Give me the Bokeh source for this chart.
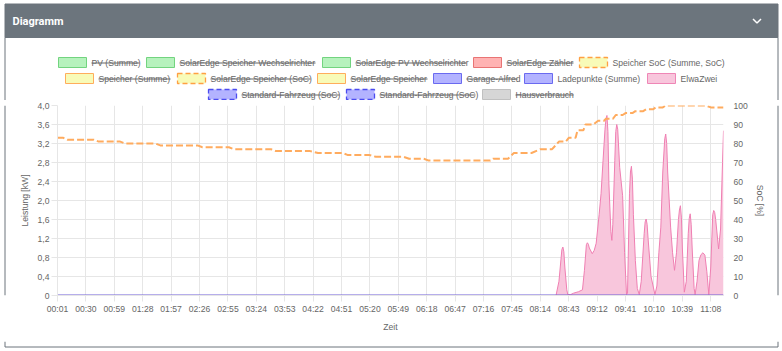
from bokeh.plotting import figure
from bokeh.models import Range1d, LinearAxis, FixedTicker
from bokeh.layouts import column, row
from bokeh.embed import file_html
from bokeh.resources import INLINE
from bokeh.core.properties import value

# ---------------- data ----------------
X_START = "00:01"
X_END = "11:21"
X_TICK_LABELS = ["00:01", "00:30", "00:59", "01:28", "01:57", "02:26", "02:55", "03:24",
                 "03:53", "04:22", "04:51", "05:20", "05:49", "06:18", "06:47", "07:16",
                 "07:45", "08:14", "08:43", "09:12", "09:41", "10:10", "10:39", "11:08"]
Y_TICK_LABELS = ["0", "0,4", "0,8", "1,2", "1,6", "2,0", "2,4", "2,8", "3,2", "3,6", "4,0"]
SOC_TICK_LABELS = ["0", "10", "20", "30", "40", "50", "60", "70", "80", "90", "100"]

# ElwaZwei [kW]
ELWA_T = ["00:01", "08:30", "08:33", "08:35", "08:36", "08:37", "08:38", "08:39", "08:41", "08:42",
          "08:45", "08:48", "08:53", "08:57", "08:59", "09:01", "09:02", "09:03", "09:04", "09:07",
          "09:09", "09:11", "09:14", "09:16", "09:18", "09:20", "09:21", "09:22", "09:23", "09:24",
          "09:26", "09:27", "09:28", "09:30", "09:31", "09:32", "09:33", "09:35", "09:38", "09:40",
          "09:42", "09:43", "09:45", "09:46", "09:47", "09:48", "09:49", "09:51", "09:53", "09:55",
          "09:57", "10:00", "10:01", "10:02", "10:03", "10:04", "10:07", "10:11", "10:13", "10:15",
          "10:17", "10:19", "10:21", "10:22", "10:23", "10:24", "10:27", "10:29", "10:31", "10:33",
          "10:35", "10:36", "10:37", "10:38", "10:39", "10:41", "10:43", "10:45", "10:46", "10:47",
          "10:48", "10:49", "10:51", "10:52", "10:54", "10:56", "10:58", "11:00", "11:02", "11:04",
          "11:06", "11:08", "11:10", "11:11", "11:12", "11:13", "11:16", "11:18", "11:20", "11:21"]
ELWA_KW = [0, 0, 0.3, 0.75, 0.97, 1.02, 0.92, 0.6, 0.12, 0.02,
           0.02, 0.05, 0.08, 0.12, 0.53, 1.07, 1.11, 1.08, 1.0, 0.88,
           0.95, 1.1, 1.7, 2.15, 2.84, 3.5, 3.72, 3.79, 3.45, 2.35,
           1.35, 1.16, 1.5, 2.84, 3.45, 3.6, 3.5, 2.7, 2.1, 0.9,
           0.02, 0.05, 2.14, 2.6, 2.72, 2.45, 1.7, 0.74, 0.15, 0.02,
           0.3, 1.3, 1.55, 1.61, 1.5, 1.2, 0.4, 0.02, 0.2, 0.9,
           1.44, 2.6, 3.3, 3.4, 3.2, 2.6, 1.44, 0.9, 0.53, 0.9,
           1.6, 1.8, 1.89, 1.65, 1.0, 0.07, 0.3, 1.3, 1.62, 1.72,
           1.5, 1.0, 0.15, 0.02, 0.3, 0.74, 0.86, 0.9, 0.85, 0.5,
           0.02, 0.6, 1.7, 1.79, 1.75, 1.6, 0.98, 1.4, 2.8, 3.47]

# Ladepunkte (Summe) [kW]
LADE_T = ["00:01", "11:21"]
LADE_KW = [0, 0]

# Speicher SoC (Summe, SoC) [%]
SOC_T = ["00:01", "00:07", "00:11", "00:38", "00:43", "01:05", "01:10", "01:41", "01:46", "02:24",
         "02:29", "02:56", "03:01", "03:39", "03:44", "04:19", "04:27", "04:52", "04:57", "05:19",
         "05:26", "05:54", "06:00", "06:15", "06:20", "07:23", "07:26", "07:41", "07:47", "08:05",
         "08:14", "08:26", "08:33", "08:40", "08:43", "08:50", "08:52", "08:58", "09:00", "09:08",
         "09:13", "09:19", "09:21", "09:28", "09:31", "09:38", "09:41", "09:48", "09:51", "09:59",
         "10:02", "10:09", "10:12", "10:19", "10:22", "11:03", "11:08", "11:21"]
SOC_PCT = [83, 83, 82, 82, 81, 81, 80, 80, 79, 79,
           78, 78, 77, 77, 76, 76, 75, 75, 74, 74,
           73, 73, 72, 72, 71, 71, 72, 72, 75, 75,
           77, 77, 81, 81, 83, 83, 87, 87, 90, 90,
           92, 92, 93, 93, 95, 95, 96, 96, 97, 97,
           98, 98, 99, 99, 100, 100, 99, 99]

# legend
LEGEND_LABELS = [
    ["PV (Summe)", "SolarEdge Speicher Wechselrichter", "SolarEdge PV Wechselrichter",
     "SolarEdge Zähler", "Speicher SoC (Summe, SoC)"],
    ["Speicher (Summe)", "SolarEdge Speicher (SoC)", "SolarEdge Speicher", "Garage-Alfred",
     "Ladepunkte (Summe)", "ElwaZwei"],
    ["Standard-Fahrzeug (SoC)", "Standard-Fahrzeug (SoC)", "Hausverbrauch"],
]
LEGEND_HIDDEN = [
    [True, True, True, True, False],
    [True, True, True, True, False, False],
    [True, True, True],
]
LEGEND_STYLE = [
    ["green", "green", "green", "red", "socdash"],
    ["yellow", "socdash", "yellow", "blue", "blue", "pink"],
    ["bluedash", "bluedash", "gray"],
]

# ---------------- layout / style ----------------
FONT = "Liberation Sans"
TXT = "#666666"
GRID = "#e6e6e6"
CARD = "#6c757d"
ROW_Y = [62, 78, 94]
BOX_LEFT = [[58, 146, 322, 473, 579], [65, 177, 317, 433, 524, 647], [208, 346, 482]]
TEXT_END = [[139, 315, 466, 573, 724], [170, 310, 427, 517, 640, 716], [339, 475, 573]]
BOX_W, BOX_H = 28, 10
STYLES = {
    "green": ("#b6f2bd", "#72d47f", "solid"),
    "red": ("#ffb3b3", "#e97474", "solid"),
    "yellow": ("#f8fbb8", "#ffad5c", "solid"),
    "socdash": ("#f8fbb8", "#ffa042", "5 3"),
    "blue": ("#b3b3ff", "#6a6af0", "solid"),
    "bluedash": ("#b3b3ff", "#4b4bf0", "5 3"),
    "pink": ("#f8c6dc", "#ef86b6", "solid"),
    "gray": ("#d6d6d6", "#c0c0c0", "solid"),
}


def to_min(s):
    h, m = s.split(":")
    return int(h) * 60 + int(m)


def mins(lst):
    return [to_min(s) for s in lst]


# ---------------- top: header + legend ----------------
top = figure(width=782, height=100, x_range=Range1d(0, 782), y_range=Range1d(100, 0),
             output_backend="svg", toolbar_location=None, min_border=0,
             x_axis_location=None, y_axis_location=None, outline_line_color=None)
top.xgrid.visible = False
top.ygrid.visible = False
top.background_fill_color = "white"
top.border_fill_color = "white"

top.quad(left=[4.5], right=[777.5], top=[3.5], bottom=[37], fill_color=CARD, line_color=CARD)
top.line(x=[4.5, 4.5], y=[37, 100], line_color=CARD, line_width=1)
top.line(x=[777.5, 777.5], y=[37, 100], line_color=CARD, line_width=1)
top.text(x=[12], y=[20.5], text=["Diagramm"], text_font=value("Roboto"),
         text_font_style="bold", text_font_size="11px", text_color="white",
         text_baseline="middle", text_align="left")
top.line(x=[752.5, 756.5, 760.5], y=[18.5, 22.5, 18.5], line_color="white", line_width=1.5)

for r, labels in enumerate(LEGEND_LABELS):
    yc = ROW_Y[r]
    for i, lab in enumerate(labels):
        fill, line, dash = STYLES[LEGEND_STYLE[r][i]]
        l = BOX_LEFT[r][i]
        top.quad(left=[l], right=[l + BOX_W], top=[yc - BOX_H / 2], bottom=[yc + BOX_H / 2],
                 fill_color=fill, line_color=line, line_width=1.3 if dash != "solid" else 1,
                 line_dash=dash)
        tx = l + BOX_W + 5
        top.text(x=[tx], y=[yc], text=[lab], text_font=value(FONT), text_font_size="8.6px",
                 text_color=TXT, text_baseline="middle", text_align="left")
        if LEGEND_HIDDEN[r][i]:
            top.line(x=[tx, TEXT_END[r][i]], y=[yc + 0.5, yc + 0.5], line_color=TXT, line_width=1)

# ---------------- main chart ----------------
p = figure(width=758, height=240, x_range=Range1d(to_min(X_START), to_min(X_END)),
           y_range=Range1d(0, 4), output_backend="svg", toolbar_location=None,
           min_border_left=45, min_border_right=47, min_border_top=5, min_border_bottom=45,
           outline_line_color=None)
p.extra_y_ranges = {"soc": Range1d(0, 100)}
p.background_fill_color = "white"
p.border_fill_color = "white"

xt = mins(X_TICK_LABELS)
yt = [float(s.replace(",", ".")) for s in Y_TICK_LABELS]
st = [float(s) for s in SOC_TICK_LABELS]

xa = p.xaxis[0]
xa.ticker = FixedTicker(ticks=xt)
xa.major_label_overrides = {t: s for t, s in zip(xt, X_TICK_LABELS)}
xa.axis_label = "Zeit"

ya = p.yaxis[0]
ya.ticker = FixedTicker(ticks=yt)
ya.major_label_overrides = {t: s for t, s in zip(yt, Y_TICK_LABELS)}
ya.axis_label = "Leistung [kW]"

ra = LinearAxis(y_range_name="soc", ticker=FixedTicker(ticks=st), axis_label="SoC [%]")
ra.major_label_overrides = {t: s for t, s in zip(st, SOC_TICK_LABELS)}
p.add_layout(ra, "right")

for ax in (xa, ya, ra):
    ax.major_label_text_font = FONT
    ax.major_label_text_font_size = "8.6px"
    ax.major_label_text_color = TXT
    ax.axis_label_text_font = FONT
    ax.axis_label_text_font_size = "8.6px"
    ax.axis_label_text_font_style = "normal"
    ax.axis_label_text_color = TXT
    ax.minor_tick_line_color = None
    ax.major_tick_in = 0
    ax.major_tick_line_color = GRID
    ax.axis_line_color = GRID

xa.major_tick_out = 6
xa.major_label_standoff = 2
xa.axis_label_standoff = 5
ya.major_tick_out = 6
ya.major_label_standoff = 2
ya.axis_label_standoff = 5
ra.major_tick_out = 0
ra.major_label_standoff = 10
ra.axis_label_standoff = 4
ra.axis_line_color = None

p.xgrid.grid_line_color = GRID
p.ygrid.grid_line_color = GRID

ex = mins(ELWA_T)
p.varea(x=ex, y1=[0] * len(ex), y2=ELWA_KW, fill_color="#f8c6dc")
p.line(ex, ELWA_KW, line_color="#ef7fb2", line_width=1)
p.line(mins(LADE_T), LADE_KW, line_color="#6f5ed8", line_width=2)
p.line(mins(SOC_T), SOC_PCT, y_range_name="soc", line_color="#ffab5e", line_width=2,
       line_dash="7 3")

# ---------------- card side/bottom strips ----------------
left = figure(width=12, height=240, x_range=Range1d(0, 12), y_range=Range1d(240, 0),
              output_backend="svg", toolbar_location=None, min_border=0,
              x_axis_location=None, y_axis_location=None, outline_line_color=None)
left.line(x=[4.5, 4.5], y=[0, 240], line_color=CARD, line_width=1)
right = figure(width=12, height=240, x_range=Range1d(770, 782), y_range=Range1d(240, 0),
               output_backend="svg", toolbar_location=None, min_border=0,
               x_axis_location=None, y_axis_location=None, outline_line_color=None)
right.line(x=[777.5, 777.5], y=[0, 240], line_color=CARD, line_width=1)
bottom = figure(width=782, height=11, x_range=Range1d(0, 782), y_range=Range1d(11, 0),
                output_backend="svg", toolbar_location=None, min_border=0,
                x_axis_location=None, y_axis_location=None, outline_line_color=None)
bottom.line(x=[4.5, 4.5, 777.5, 777.5], y=[0, 5.5, 5.5, 0], line_color=CARD, line_width=1)
for f in (left, right, bottom):
    f.xgrid.visible = False
    f.ygrid.visible = False

layout = column(top, row(left, p, right, spacing=0), bottom, spacing=0)
open("out.html", "w").write(file_html(layout, INLINE))
